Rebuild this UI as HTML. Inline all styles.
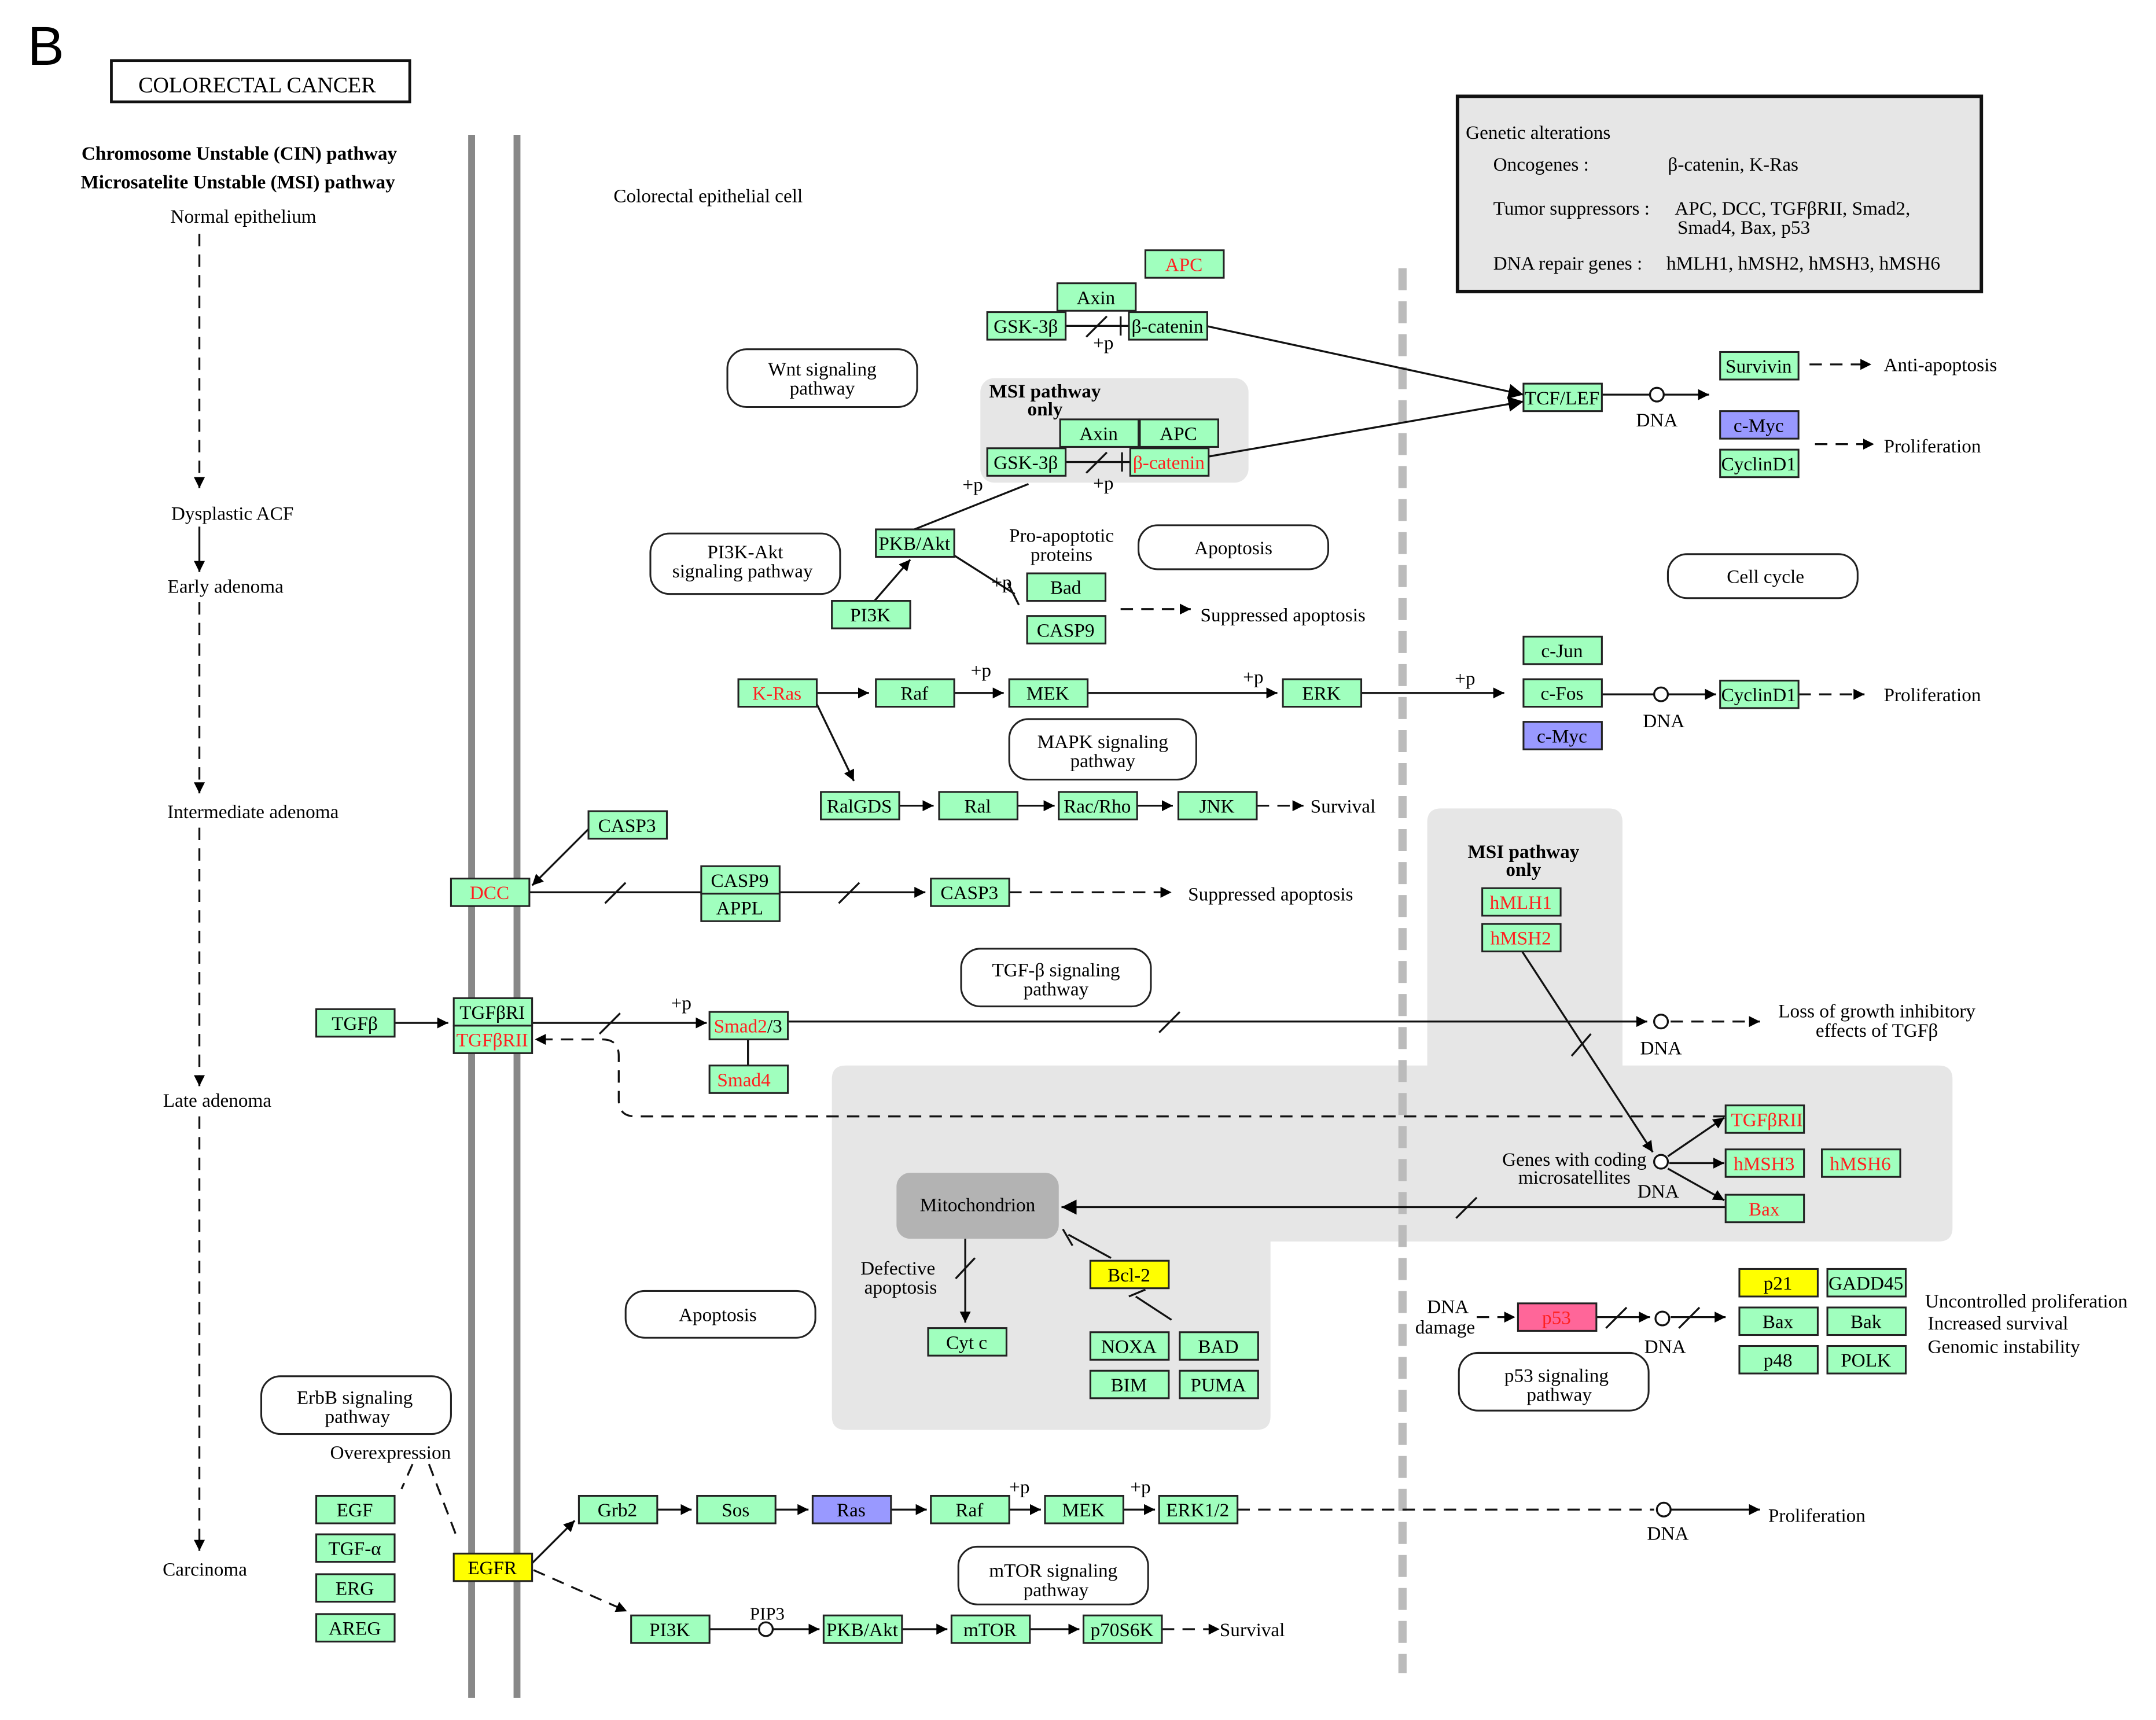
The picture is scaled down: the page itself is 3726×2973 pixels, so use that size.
<!DOCTYPE html>
<html><head><meta charset="utf-8"><style>
html,body{margin:0;padding:0;background:#fff;}
svg{display:block}
text{font-family:"Liberation Serif",serif;font-size:14px;fill:#000}
.g rect{fill:#a0ffbe;stroke:#222;stroke-width:1.3}
.r{fill:#ff2020}
.c{text-anchor:middle}
.pw{fill:#fff;stroke:#222;stroke-width:1.3}
.l{stroke:#111;stroke-width:1.4;fill:none}
.d{stroke:#111;stroke-width:1.4;fill:none;stroke-dasharray:9 6}
</style></head><body>
<svg width="3726" height="2973" viewBox="0 0 1568 1251" xmlns="http://www.w3.org/2000/svg">
<defs>
<marker id="a" viewBox="0 0 10 10" refX="10" refY="5" markerWidth="8" markerHeight="8" orient="auto" markerUnits="userSpaceOnUse" ><path d="M0,0 L10,5 L0,10z" fill="#000"/></marker>
<marker id="A" viewBox="0 0 10 10" refX="10" refY="5" markerWidth="11" markerHeight="11" orient="auto" markerUnits="userSpaceOnUse"><path d="M0,0 L10,5 L0,10z" fill="#000"/></marker>
</defs>
<path d="M615,775 H1038 V598 Q1038,588 1048,588 H1170 Q1180,588 1180,598 V775 H1410 Q1420,775 1420,785 V893 Q1420,903 1410,903 H924 V1030 Q924,1040 914,1040 H615 Q605,1040 605,1030 V785 Q605,775 615,775z" fill="#e6e6e6"/>
<rect x="713" y="275" width="195" height="76" rx="10" fill="#e6e6e6"/>
<rect x="652" y="853" width="118" height="48" rx="10" fill="#b3b3b3"/>
<text x="711" y="881" class="c">Mitochondrion</text>
<line x1="343" y1="98" x2="343" y2="1235" stroke="#888" stroke-width="5"/>
<line x1="376" y1="98" x2="376" y2="1235" stroke="#888" stroke-width="5"/>
<line x1="1020" y1="195" x2="1020" y2="1217" stroke="#bbb" stroke-width="6" stroke-dasharray="16 8"/>
<text x="20" y="47" style="font-family:'Liberation Sans',sans-serif;font-size:40px">B</text>
<rect x="81" y="44" width="217" height="30" fill="#fff" stroke="#111" stroke-width="2"/>
<text x="187" y="67" class="c" style="font-size:16px">COLORECTAL  CANCER</text>
<rect x="1060" y="70" width="381" height="142" fill="#e6e6e6" stroke="#111" stroke-width="2.5"/>
<text x="1066" y="101">Genetic alterations</text>
<text x="1086" y="124">Oncogenes :</text><text x="1213" y="124">β-catenin, K-Ras</text>
<text x="1086" y="156">Tumor suppressors :</text><text x="1218" y="156">APC, DCC, TGFβRII, Smad2,</text>
<text x="1220" y="170">Smad4, Bax, p53</text>
<text x="1086" y="196">DNA repair genes :</text><text x="1212" y="196">hMLH1, hMSH2, hMSH3, hMSH6</text>
<text x="174" y="116" class="c" style="font-weight:bold">Chromosome Unstable (CIN) pathway</text>
<text x="173" y="137" class="c" style="font-weight:bold">Microsatelite Unstable (MSI) pathway</text>
<text x="177" y="162" class="c">Normal epithelium</text>
<text x="515" y="147" class="c">Colorectal epithelial cell</text>
<line x1="145" y1="170" x2="145" y2="355" class="d" marker-end="url(#a)"/>
<text x="169" y="378" class="c">Dysplastic ACF</text>
<line x1="145" y1="383" x2="145" y2="416" class="l" marker-end="url(#a)"/>
<text x="164" y="431" class="c">Early adenoma</text>
<line x1="145" y1="438" x2="145" y2="577" class="d" marker-end="url(#a)"/>
<text x="184" y="595" class="c">Intermediate adenoma</text>
<line x1="145" y1="602" x2="145" y2="790" class="d" marker-end="url(#a)"/>
<text x="158" y="805" class="c">Late adenoma</text>
<line x1="145" y1="812" x2="145" y2="1128" class="d" marker-end="url(#a)"/>
<text x="149" y="1146" class="c">Carcinoma</text>
<rect x="529" y="254" width="138" height="42" rx="14" class="pw"/><text x="598" y="273" class="c">Wnt signaling</text><text x="598" y="287" class="c">pathway</text>
<rect x="473" y="388" width="138" height="44" rx="14" class="pw"/><text x="542" y="406" class="c">PI3K-Akt</text><text x="540" y="420" class="c">signaling pathway</text>
<rect x="828" y="382" width="138" height="32" rx="14" class="pw"/><text x="897" y="403" class="c">Apoptosis</text>
<rect x="734" y="523" width="136" height="44" rx="14" class="pw"/><text x="802" y="544" class="c">MAPK signaling</text><text x="802" y="558" class="c">pathway</text>
<rect x="1213" y="403" width="138" height="32" rx="14" class="pw"/><text x="1284" y="424" class="c">Cell cycle</text>
<rect x="699" y="690" width="138" height="42" rx="14" class="pw"/><text x="768" y="710" class="c">TGF-β signaling</text><text x="768" y="724" class="c">pathway</text>
<rect x="455" y="939" width="138" height="34" rx="14" class="pw"/><text x="522" y="961" class="c">Apoptosis</text>
<rect x="190" y="1001" width="138" height="42" rx="14" class="pw"/><text x="258" y="1021" class="c">ErbB signaling</text><text x="260" y="1035" class="c">pathway</text>
<rect x="697" y="1125" width="138" height="42" rx="14" class="pw"/><text x="766" y="1147" class="c">mTOR signaling</text><text x="768" y="1161" class="c">pathway</text>
<rect x="1061" y="984" width="138" height="42" rx="14" class="pw"/><text x="1132" y="1005" class="c">p53 signaling</text><text x="1134" y="1019" class="c">pathway</text>
<g>
<line x1="877" y1="237" x2="1108" y2="287" class="l" marker-end="url(#A)"/>
<line x1="879" y1="332" x2="1108" y2="292" class="l" marker-end="url(#A)"/>
<line x1="775" y1="237" x2="821" y2="237" class="l"/><line x1="815" y1="230" x2="815" y2="244" class="l"/><line x1="790" y1="245" x2="805" y2="230" class="l"/>
<line x1="775" y1="336" x2="822" y2="336" class="l"/><line x1="816" y1="329" x2="816" y2="343" class="l"/><line x1="790" y1="344" x2="805" y2="329" class="l"/>
<text x="795" y="254">+p</text><text x="795" y="356">+p</text>
<line x1="1165" y1="287" x2="1200" y2="287" class="l"/><circle cx="1205" cy="287" r="5" fill="#fff" stroke="#111" stroke-width="1.4"/><line x1="1210" y1="287" x2="1243" y2="287" class="l" marker-end="url(#a)"/>
<text x="1205" y="310" class="c">DNA</text>
<line x1="1316" y1="265" x2="1361" y2="265" class="d" marker-end="url(#a)"/><text x="1370" y="270">Anti-apoptosis</text>
<line x1="1320" y1="323" x2="1363" y2="323" class="d" marker-end="url(#a)"/><text x="1370" y="329">Proliferation</text>
<line x1="665" y1="385" x2="748" y2="352" class="l"/><text x="700" y="357">+p</text>
<line x1="694" y1="404" x2="738" y2="432" class="l"/><line x1="733" y1="424" x2="741" y2="440" class="l"/><text x="721" y="428">+p</text>
<text x="772" y="394" class="c">Pro-apoptotic</text><text x="772" y="408" class="c">proteins</text>
<line x1="815" y1="443" x2="866" y2="443" class="d" marker-end="url(#a)"/><text x="873" y="452">Suppressed apoptosis</text>
<line x1="636" y1="437" x2="662" y2="407" class="l" marker-end="url(#a)"/>
<line x1="594" y1="504" x2="632" y2="504" class="l" marker-end="url(#a)"/>
<line x1="694" y1="504" x2="730" y2="504" class="l" marker-end="url(#a)"/><text x="706" y="492">+p</text>
<line x1="791" y1="504" x2="929" y2="504" class="l" marker-end="url(#a)"/><text x="904" y="497">+p</text>
<line x1="990" y1="504" x2="1094" y2="504" class="l" marker-end="url(#a)"/><text x="1058" y="498">+p</text>
<line x1="594" y1="512" x2="621" y2="568" class="l" marker-end="url(#a)"/>
<line x1="1165" y1="505" x2="1203" y2="505" class="l"/><circle cx="1208" cy="505" r="5" fill="#fff" stroke="#111" stroke-width="1.4"/><line x1="1213" y1="505" x2="1248" y2="505" class="l" marker-end="url(#a)"/>
<text x="1210" y="529" class="c">DNA</text>
<line x1="1308" y1="505" x2="1356" y2="505" class="d" marker-end="url(#a)"/><text x="1370" y="510">Proliferation</text>
<line x1="654" y1="586" x2="679" y2="586" class="l" marker-end="url(#a)"/>
<line x1="740" y1="586" x2="767" y2="586" class="l" marker-end="url(#a)"/>
<line x1="827" y1="586" x2="853" y2="586" class="l" marker-end="url(#a)"/>
<line x1="914" y1="586" x2="948" y2="586" class="d" marker-end="url(#a)"/><text x="953" y="591">Survival</text>
<line x1="428" y1="603" x2="387" y2="644" class="l" marker-end="url(#a)"/>
<line x1="385" y1="649" x2="673" y2="649" class="l" marker-end="url(#a)"/>
<line x1="440" y1="657" x2="455" y2="642" class="l"/><line x1="610" y1="657" x2="625" y2="642" class="l"/>
<line x1="734" y1="649" x2="852" y2="649" class="d" marker-end="url(#a)"/><text x="864" y="655">Suppressed apoptosis</text>
<line x1="287" y1="744" x2="326" y2="744" class="l" marker-end="url(#a)"/>
<line x1="387" y1="744" x2="514" y2="744" class="l" marker-end="url(#a)"/><text x="488" y="734">+p</text>
<line x1="436" y1="752" x2="451" y2="737" class="l"/>
<line x1="573" y1="743" x2="1198" y2="743" class="l" marker-end="url(#a)"/><line x1="843" y1="751" x2="858" y2="736" class="l"/>
<circle cx="1208" cy="743" r="5" fill="#fff" stroke="#111" stroke-width="1.4"/><text x="1208" y="767" class="c">DNA</text>
<line x1="1215" y1="743" x2="1280" y2="743" class="d" marker-end="url(#a)"/>
<text x="1365" y="740" class="c">Loss of growth inhibitory</text><text x="1365" y="754" class="c">effects of TGFβ</text>
<line x1="544" y1="756" x2="544" y2="775" class="l"/>
<path d="M1255,812 H462 Q450,812 450,800 V768 Q450,756 438,756 H389" class="d" marker-end="url(#a)"/>
<line x1="1107" y1="692" x2="1202" y2="838" class="l" marker-end="url(#a)"/><line x1="1143" y1="768" x2="1157" y2="752" class="l"/>
<circle cx="1208" cy="845" r="5" fill="#fff" stroke="#111" stroke-width="1.4"/>
<line x1="1213" y1="841" x2="1254" y2="813" class="l" marker-end="url(#a)"/>
<line x1="1214" y1="846" x2="1254" y2="846" class="l" marker-end="url(#a)"/>
<line x1="1213" y1="850" x2="1254" y2="873" class="l" marker-end="url(#a)"/>
<text x="1145" y="848" class="c">Genes with coding</text><text x="1145" y="861" class="c">microsatellites</text><text x="1206" y="871" class="c">DNA</text>
<line x1="1255" y1="878" x2="772" y2="878" class="l" marker-end="url(#A)"/><line x1="1059" y1="886" x2="1074" y2="871" class="l"/>
<line x1="702" y1="901" x2="702" y2="962" class="l" marker-end="url(#a)"/><line x1="695" y1="930" x2="709" y2="915" class="l"/>
<text x="653" y="927" class="c">Defective</text><text x="655" y="941" class="c">apoptosis</text>
<line x1="808" y1="915" x2="777" y2="898" class="l"/><line x1="773" y1="894" x2="780" y2="906" class="l"/>
<line x1="852" y1="960" x2="826" y2="943" class="l"/><line x1="821" y1="943" x2="833" y2="938" class="l"/>
<text x="1053" y="955" class="c">DNA</text><text x="1051" y="970" class="c">damage</text>
<line x1="1074" y1="958" x2="1102" y2="958" class="d" marker-end="url(#a)"/>
<line x1="1161" y1="958" x2="1200" y2="958" class="l" marker-end="url(#a)"/><line x1="1168" y1="966" x2="1183" y2="951" class="l"/>
<circle cx="1209" cy="959" r="5" fill="#fff" stroke="#111" stroke-width="1.4"/><text x="1211" y="984" class="c">DNA</text>
<line x1="1215" y1="958" x2="1255" y2="958" class="l" marker-end="url(#a)"/><line x1="1221" y1="966" x2="1236" y2="951" class="l"/>
<text x="1400" y="951">Uncontrolled proliferation</text><text x="1402" y="967">Increased survival</text><text x="1402" y="984">Genomic instability</text>
<text x="284" y="1061" class="c">Overexpression</text>
<line x1="300" y1="1065" x2="292" y2="1083" class="d" stroke-dasharray="5 4"/>
<line x1="312" y1="1065" x2="333" y2="1120" class="d" stroke-dasharray="5 4"/>
<line x1="386" y1="1138" x2="418" y2="1106" class="l" marker-end="url(#a)"/>
<line x1="478" y1="1098" x2="503" y2="1098" class="l" marker-end="url(#a)"/>
<line x1="564" y1="1098" x2="588" y2="1098" class="l" marker-end="url(#a)"/>
<line x1="648" y1="1098" x2="674" y2="1098" class="l" marker-end="url(#a)"/>
<line x1="734" y1="1098" x2="757" y2="1098" class="l" marker-end="url(#a)"/><text x="734" y="1086">+p</text>
<line x1="817" y1="1098" x2="840" y2="1098" class="l" marker-end="url(#a)"/><text x="822" y="1086">+p</text>
<line x1="900" y1="1098" x2="1203" y2="1098" class="d"/><circle cx="1210" cy="1098" r="5" fill="#fff" stroke="#111" stroke-width="1.4"/>
<text x="1213" y="1120" class="c">DNA</text>
<line x1="1215" y1="1098" x2="1280" y2="1098" class="l" marker-end="url(#a)"/><text x="1286" y="1107">Proliferation</text>
<line x1="388" y1="1142" x2="456" y2="1172" class="d" marker-end="url(#a)"/>
<line x1="516" y1="1185" x2="551" y2="1185" class="l"/><circle cx="557" cy="1185" r="5" fill="#fff" stroke="#111" stroke-width="1.4"/>
<text x="558" y="1178" class="c" style="font-size:13px">PIP3</text>
<line x1="562" y1="1185" x2="596" y2="1185" class="l" marker-end="url(#a)"/>
<line x1="656" y1="1185" x2="689" y2="1185" class="l" marker-end="url(#a)"/>
<line x1="749" y1="1185" x2="785" y2="1185" class="l" marker-end="url(#a)"/>
<line x1="845" y1="1185" x2="887" y2="1185" class="d" marker-end="url(#a)"/><text x="887" y="1190">Survival</text>
</g>
<text x="760" y="289" class="c" style="font-weight:bold">MSI pathway</text><text x="760" y="302" class="c" style="font-weight:bold">only</text>
<text x="1108" y="624" class="c" style="font-weight:bold">MSI pathway</text><text x="1108" y="637" class="c" style="font-weight:bold">only</text>
<g class="g">
<rect x="833" y="182" width="57" height="20"/><text x="861" y="197" class="c r">APC</text>
<rect x="769" y="206" width="57" height="20"/><text x="797" y="221" class="c">Axin</text>
<rect x="718" y="227" width="57" height="20"/><text x="746" y="242" class="c">GSK-3β</text>
<rect x="821" y="227" width="57" height="20"/><text x="849" y="242" class="c">β-catenin</text>
<rect x="1108" y="279" width="57" height="20"/><text x="1136" y="294" class="c">TCF/LEF</text>
<rect x="1251" y="256" width="57" height="20"/><text x="1279" y="271" class="c">Survivin</text>
<rect x="1251" y="299" width="57" height="20" style="fill:#9999ff"/><text x="1279" y="314" class="c">c-Myc</text>
<rect x="1251" y="327" width="57" height="20"/><text x="1279" y="342" class="c">CyclinD1</text>
<rect x="771" y="305" width="57" height="20"/><text x="799" y="320" class="c">Axin</text>
<rect x="829" y="305" width="57" height="20"/><text x="857" y="320" class="c">APC</text>
<rect x="718" y="326" width="57" height="20"/><text x="746" y="341" class="c">GSK-3β</text>
<rect x="822" y="326" width="57" height="20"/><text x="850" y="341" class="c r">β-catenin</text>
<rect x="637" y="385" width="57" height="20"/><text x="665" y="400" class="c">PKB/Akt</text>
<rect x="747" y="417" width="57" height="20"/><text x="775" y="432" class="c">Bad</text>
<rect x="747" y="448" width="57" height="20"/><text x="775" y="463" class="c">CASP9</text>
<rect x="605" y="437" width="57" height="20"/><text x="633" y="452" class="c">PI3K</text>
<rect x="537" y="494" width="57" height="20"/><text x="565" y="509" class="c r">K-Ras</text>
<rect x="637" y="494" width="57" height="20"/><text x="665" y="509" class="c">Raf</text>
<rect x="734" y="494" width="57" height="20"/><text x="762" y="509" class="c">MEK</text>
<rect x="933" y="494" width="57" height="20"/><text x="961" y="509" class="c">ERK</text>
<rect x="1108" y="463" width="57" height="20"/><text x="1136" y="478" class="c">c-Jun</text>
<rect x="1108" y="494" width="57" height="20"/><text x="1136" y="509" class="c">c-Fos</text>
<rect x="1108" y="525" width="57" height="20" style="fill:#9999ff"/><text x="1136" y="540" class="c">c-Myc</text>
<rect x="1251" y="495" width="57" height="20"/><text x="1279" y="510" class="c">CyclinD1</text>
<rect x="597" y="576" width="57" height="20"/><text x="625" y="591" class="c">RalGDS</text>
<rect x="683" y="576" width="57" height="20"/><text x="711" y="591" class="c">Ral</text>
<rect x="770" y="576" width="57" height="20"/><text x="798" y="591" class="c">Rac/Rho</text>
<rect x="857" y="576" width="57" height="20"/><text x="885" y="591" class="c">JNK</text>
<rect x="428" y="590" width="57" height="20"/><text x="456" y="605" class="c">CASP3</text>
<rect x="328" y="639" width="57" height="20"/><text x="356" y="654" class="c r">DCC</text>
<rect x="510" y="630" width="57" height="20"/><text x="538" y="645" class="c">CASP9</text>
<rect x="510" y="650" width="57" height="20"/><text x="538" y="665" class="c">APPL</text>
<rect x="677" y="639" width="57" height="20"/><text x="705" y="654" class="c">CASP3</text>
<rect x="230" y="734" width="57" height="20"/><text x="258" y="749" class="c">TGFβ</text>
<rect x="330" y="726" width="57" height="20"/><text x="358" y="741" class="c">TGFβRI</text>
<rect x="330" y="746" width="57" height="20"/><text x="358" y="761" class="c r">TGFβRII</text>
<rect x="516" y="736" width="57" height="20"/><text x="544" y="751" class="c"><tspan class="r">Smad2</tspan>/3</text>
<rect x="516" y="775" width="57" height="20"/><text x="541" y="790" class="c r">Smad4</text>
<rect x="1078" y="646" width="57" height="20"/><text x="1106" y="661" class="c r">hMLH1</text>
<rect x="1078" y="672" width="57" height="20"/><text x="1106" y="687" class="c r">hMSH2</text>
<rect x="1255" y="804" width="57" height="20"/><text x="1285" y="819" class="c r">TGFβRII</text>
<rect x="1255" y="836" width="57" height="20"/><text x="1283" y="851" class="c r">hMSH3</text>
<rect x="1325" y="836" width="57" height="20"/><text x="1353" y="851" class="c r">hMSH6</text>
<rect x="1255" y="869" width="57" height="20"/><text x="1283" y="884" class="c r">Bax</text>
<rect x="793" y="917" width="57" height="20" style="fill:#ffff00"/><text x="821" y="932" class="c">Bcl-2</text>
<rect x="793" y="969" width="57" height="20"/><text x="821" y="984" class="c">NOXA</text>
<rect x="858" y="969" width="57" height="20"/><text x="886" y="984" class="c">BAD</text>
<rect x="793" y="997" width="57" height="20"/><text x="821" y="1012" class="c">BIM</text>
<rect x="858" y="997" width="57" height="20"/><text x="886" y="1012" class="c">PUMA</text>
<rect x="675" y="966" width="57" height="20"/><text x="703" y="981" class="c">Cyt c</text>
<rect x="1104" y="948" width="57" height="20" style="fill:#ff6699"/><text x="1132" y="963" class="c r">p53</text>
<rect x="1265" y="923" width="57" height="20" style="fill:#ffff00"/><text x="1293" y="938" class="c">p21</text>
<rect x="1329" y="923" width="57" height="20"/><text x="1357" y="938" class="c">GADD45</text>
<rect x="1265" y="951" width="57" height="20"/><text x="1293" y="966" class="c">Bax</text>
<rect x="1329" y="951" width="57" height="20"/><text x="1357" y="966" class="c">Bak</text>
<rect x="1265" y="979" width="57" height="20"/><text x="1293" y="994" class="c">p48</text>
<rect x="1329" y="979" width="57" height="20"/><text x="1357" y="994" class="c">POLK</text>
<rect x="230" y="1088" width="57" height="20"/><text x="258" y="1103" class="c">EGF</text>
<rect x="230" y="1116" width="57" height="20"/><text x="258" y="1131" class="c">TGF-α</text>
<rect x="230" y="1145" width="57" height="20"/><text x="258" y="1160" class="c">ERG</text>
<rect x="230" y="1174" width="57" height="20"/><text x="258" y="1189" class="c">AREG</text>
<rect x="330" y="1130" width="57" height="20" style="fill:#ffff00"/><text x="358" y="1145" class="c">EGFR</text>
<rect x="421" y="1088" width="57" height="20"/><text x="449" y="1103" class="c">Grb2</text>
<rect x="507" y="1088" width="57" height="20"/><text x="535" y="1103" class="c">Sos</text>
<rect x="591" y="1088" width="57" height="20" style="fill:#9999ff"/><text x="619" y="1103" class="c">Ras</text>
<rect x="677" y="1088" width="57" height="20"/><text x="705" y="1103" class="c">Raf</text>
<rect x="760" y="1088" width="57" height="20"/><text x="788" y="1103" class="c">MEK</text>
<rect x="843" y="1088" width="57" height="20"/><text x="871" y="1103" class="c">ERK1/2</text>
<rect x="459" y="1175" width="57" height="20"/><text x="487" y="1190" class="c">PI3K</text>
<rect x="599" y="1175" width="57" height="20"/><text x="627" y="1190" class="c">PKB/Akt</text>
<rect x="692" y="1175" width="57" height="20"/><text x="720" y="1190" class="c">mTOR</text>
<rect x="788" y="1175" width="57" height="20"/><text x="816" y="1190" class="c">p70S6K</text>
</g>
</svg>
</body></html>
